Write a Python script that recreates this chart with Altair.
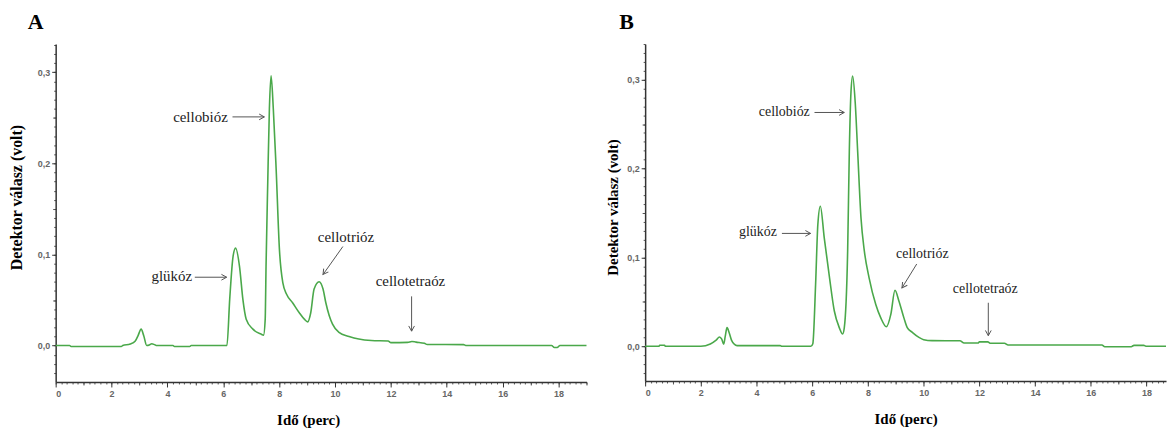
import altair as alt
import pandas as pd

# ---------------- Panel A chromatogram (time in min, detector signal in V) ----------------
a_time = [0.0, 0.5, 0.55, 2.35, 2.4, 2.67, 2.85, 2.95, 3.06, 3.15, 3.26, 3.35, 3.44, 3.55, 3.62,
          4.2, 4.25, 4.8, 4.85, 6.13, 6.23, 6.35, 6.44, 6.58, 6.70, 6.82, 7.06, 7.35, 7.44,
          7.50, 7.53, 7.59, 7.65, 7.71, 7.79, 7.89, 8.01, 8.13, 8.27, 8.48, 8.72, 8.90, 9.02,
          9.13, 9.25, 9.43, 9.57, 9.67, 9.79, 9.91, 10.14, 10.5, 10.85, 11.3, 11.9, 12.0,
          12.6, 12.75, 12.9, 13.2, 13.3, 14.6, 14.7, 17.75, 17.85, 17.95, 18.05, 19.0]
a_signal = [0.0, 0.0, -0.001, -0.001, 0.0, 0.0016, 0.005, 0.011, 0.018, 0.011, 0.0, 0.0005, 0.002, 0.0008, 0.0,
            0.0, -0.001, -0.001, 0.0, 0.0, 0.051, 0.098, 0.107, 0.087, 0.051, 0.029, 0.018, 0.0126, 0.0115,
            0.029, 0.087, 0.178, 0.26, 0.296, 0.26, 0.195, 0.105, 0.069, 0.056, 0.047, 0.036, 0.029, 0.026,
            0.036, 0.062, 0.070, 0.062, 0.047, 0.033, 0.0235, 0.0144, 0.010, 0.0071, 0.0055, 0.005, 0.0032,
            0.0035, 0.0045, 0.0038, 0.0025, 0.0012, 0.0010, 0.0, 0.0, -0.0022, -0.0022, 0.0, 0.0]

# ---------------- Panel B chromatogram ----------------
b_time = [0.0, 0.5, 0.52, 0.7, 0.72, 2.0, 2.34, 2.55, 2.67, 2.75, 2.82, 2.88, 2.94, 3.02, 3.1, 3.2, 3.3,
          4.85, 4.9, 5.95, 6.02, 6.12, 6.2, 6.29, 6.43, 6.62, 6.79, 6.97, 7.09, 7.15, 7.27, 7.33, 7.39,
          7.45, 7.54, 7.63, 7.75, 7.87, 8.04, 8.28, 8.46, 8.66, 8.82, 8.97, 9.11, 9.29, 9.41, 9.59,
          9.83, 10.0, 10.3, 11.3, 11.45, 11.95, 12.0, 12.3, 12.4, 12.9, 13.03, 16.4, 16.5, 17.45,
          17.55, 17.9, 18.0, 18.7]
b_signal = [0.0, 0.0, 0.0012, 0.0012, 0.0, 0.0, 0.0027, 0.007, 0.0105, 0.008, 0.0025, 0.012, 0.021, 0.015, 0.007, 0.0025, 0.0008,
            0.0008, 0.0, 0.0, 0.003, 0.07, 0.137, 0.1576, 0.122, 0.077, 0.040, 0.021, 0.0139, 0.021, 0.107, 0.219, 0.286,
            0.304, 0.275, 0.219, 0.144, 0.107, 0.077, 0.047, 0.032, 0.022, 0.036, 0.063, 0.051, 0.032, 0.021, 0.0157,
            0.010, 0.0075, 0.0064, 0.0063, 0.0037, 0.0037, 0.005, 0.005, 0.0034, 0.0034, 0.0015, 0.0015, -0.0004, -0.0004,
            0.0011, 0.0011, 0.0, 0.0]

# ---------------- Annotations ----------------
ann_labels = ["cellobióz", "glükóz", "cellotrióz", "cellotetraóz"]
ann_align = ["right", "right", "center", "center"]
ann_angle = [0, 0, 125, 90]

a_text_t = [6.16, 4.88, 10.39, 12.70]
a_text_v = [0.251, 0.076, 0.1186, 0.0705]
a_arrow_t0 = [6.33, 4.98, 10.28, 12.74]
a_arrow_v0 = [0.251, 0.075, 0.1087, 0.054]
a_arrow_t1 = [7.47, 6.12, 9.57, 12.74]
a_arrow_v1 = [0.251, 0.075, 0.078, 0.0158]

b_text_t = [5.91, 4.73, 9.95, 12.21]
b_text_v = [0.264, 0.128, 0.104, 0.0646]
b_arrow_t0 = [6.08, 4.91, 9.75, 12.32]
b_arrow_v0 = [0.263, 0.127, 0.0926, 0.049]
b_arrow_t1 = [7.15, 5.94, 9.22, 12.32]
b_arrow_v1 = [0.263, 0.127, 0.0657, 0.012]

x_major = [0, 2, 4, 6, 8, 10, 12, 14, 16, 18]
y_major = [0.0, 0.1, 0.2, 0.3]

LINE_COLOR = "#4aa84a"
ARROW_COLOR = "#555555"
SERIF = "Liberation Serif"
SANS = "Liberation Sans"


def panel(letter, times, signals, text_t, text_v, ar_t0, ar_v0, ar_t1, ar_v1,
          xdom, ydom, width, height, ytitle_size, ytitle_pad, ytitle_y, xtitle_x,
          text_size, letter_dx):
    xs = alt.Scale(domain=xdom, nice=False, zero=False)
    ys = alt.Scale(domain=ydom, nice=False, zero=False)
    xmax = xdom[1]
    x_minor = [round(i * 0.2, 2) for i in range(int(xmax / 0.2) + 1)]
    x_mid = [v for v in range(0, int(xmax) + 1) if v % 2 == 1]
    y_minor = [round(-0.03 + i * 0.01, 2) for i in range(40) if -0.03 + i * 0.01 <= ydom[1]]
    y_mid = [round(-0.05 + 0.1 * k, 2) for k in range(1, 5)]

    df = pd.DataFrame({"t": times, "v": signals})
    ann = pd.DataFrame({
        "label": ann_labels, "align": ann_align, "angle": ann_angle,
        "tt": text_t, "tv": text_v,
        "t0": ar_t0, "v0": ar_v0, "t1": ar_t1, "v1": ar_v1,
    })

    xtitle_kwargs = {}
    if xtitle_x is not None:
        xtitle_kwargs["titleX"] = xtitle_x

    line = alt.Chart(df).mark_line(color=LINE_COLOR, strokeWidth=1.6, interpolate="monotone").encode(
        x=alt.X("t:Q", scale=xs, axis=alt.Axis(
            orient="bottom", values=x_major, tickSize=5, labelFontSize=9, labelFont=SANS,
            labelFontWeight="bold", labelColor="#666", labelPadding=3, title="Idő (perc)",
            titleFont=SERIF, titleFontSize=15, titleFontWeight="bold", titleColor="#000",
            titlePadding=14, format="d", domain=True, domainColor="#333", domainWidth=1.5,
            **xtitle_kwargs)),
        y=alt.Y("v:Q", scale=ys, axis=alt.Axis(
            orient="left", values=y_major, tickSize=4, labelFontSize=9, labelFont=SANS,
            labelFontWeight="bold", labelColor="#666", labelPadding=2,
            labelExpr="replace(format(datum.value, '.1f'), '.', ',')",
            title="Detektor válasz (volt)", titleFont=SERIF, titleFontSize=ytitle_size,
            titleFontWeight="bold", titleColor="#000", titlePadding=ytitle_pad, titleY=ytitle_y,
            domain=True, domainColor="#333", domainWidth=1.5)),
    )

    def tick_layer(xv, yv, xsize, ysize):
        return alt.Chart(df).mark_point(opacity=0).encode(
            x=alt.X("t:Q", scale=xs, axis=alt.Axis(orient="bottom", values=xv, tickSize=xsize,
                                                    labels=False, domain=False, title=None,
                                                    tickColor="#555")),
            y=alt.Y("v:Q", scale=ys, axis=alt.Axis(orient="left", values=yv, tickSize=ysize,
                                                    labels=False, domain=False, title=None,
                                                    tickColor="#555")),
        )

    minor = tick_layer(x_minor, y_minor, 2, 2)
    mid = tick_layer(x_mid, y_mid, 3, 3)

    arrows = alt.Chart(ann).mark_rule(color=ARROW_COLOR, strokeWidth=1).encode(
        x=alt.X("t0:Q", scale=xs, axis=None), y=alt.Y("v0:Q", scale=ys, axis=None),
        x2="t1:Q", y2="v1:Q",
    )
    heads = alt.Chart(ann).mark_point(
        shape="M-1,-0.55L0,0L-1,0.55", filled=False, size=110, color=ARROW_COLOR,
        strokeWidth=1, opacity=1,
    ).encode(
        x=alt.X("t1:Q", scale=xs, axis=None), y=alt.Y("v1:Q", scale=ys, axis=None),
        angle=alt.Angle("angle:Q", scale=None),
    )
    labels_r = alt.Chart(ann).transform_filter("datum.align == 'right'").mark_text(
        font=SERIF, fontSize=text_size, color="#222", align="right", baseline="middle",
    ).encode(x=alt.X("tt:Q", scale=xs, axis=None), y=alt.Y("tv:Q", scale=ys, axis=None), text="label:N")
    labels_c = alt.Chart(ann).transform_filter("datum.align == 'center'").mark_text(
        font=SERIF, fontSize=text_size, color="#222", align="center", baseline="middle",
    ).encode(x=alt.X("tt:Q", scale=xs, axis=None), y=alt.Y("tv:Q", scale=ys, axis=None), text="label:N")

    return alt.layer(minor, mid, line, arrows, heads, labels_r, labels_c).resolve_axis(
        x="independent", y="independent"
    ).properties(
        width=width, height=height,
        title=alt.TitleParams(letter, anchor="start", dx=letter_dx, fontSize=22, font=SERIF,
                              fontWeight="bold", offset=10, frame="group", color="#000"),
    )


pa = panel("A", a_time, a_signal, a_text_t, a_text_v, a_arrow_t0, a_arrow_v0, a_arrow_t1, a_arrow_v1,
           [0, 19.0], [-0.040, 0.331], 534, 340, 16, 13, 154, 254, 15, -28)
pb = panel("B", b_time, b_signal, b_text_t, b_text_v, b_arrow_t0, b_arrow_v0, b_arrow_t1, b_arrow_v1,
           [0, 18.7], [-0.039, 0.340], 524, 339, 15, 6, 164, None, 14, -26)

chart = alt.hconcat(pa, pb, spacing=15).properties(
    padding={"left": 8, "top": 9, "right": 0, "bottom": 0},
    background="white",
).configure_view(stroke=None).configure_axis(
    grid=False, domainColor="#333", domainWidth=1.5, tickColor="#333", tickWidth=1,
)

chart.save("out.html", embed_options={"renderer": "svg", "actions": False})
